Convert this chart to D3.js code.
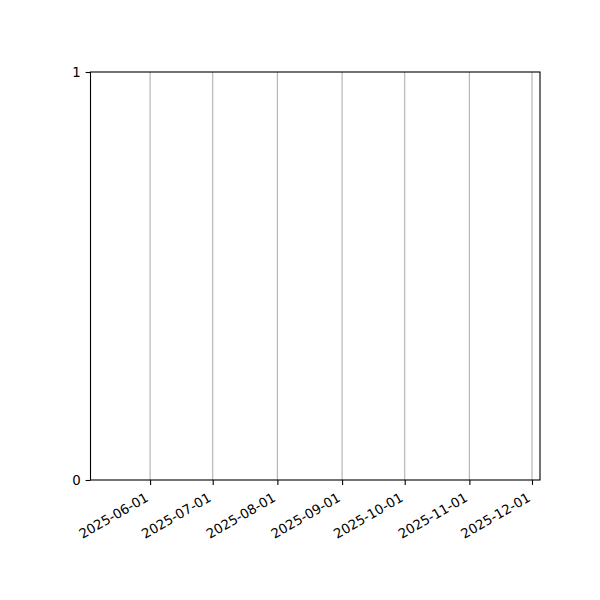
<!DOCTYPE html>
<html>
<head>
<meta charset="utf-8">
<script src="https://cdn.jsdelivr.net/npm/d3@7/dist/d3.min.js"></script>
<style>
  html, body { margin: 0; padding: 0; background: #fff; }
  svg { display: block; }
  text { font-family: "DejaVu Sans", sans-serif; fill: #000; }
</style>
</head>
<body>
<svg id="chart" width="600" height="600"></svg>
<script>
// Data (the chart is empty: no series values)
const seriesDates = [];
const seriesValues = [];
const xDomain = ["2025-05-03T10:48:00", "2025-12-04T20:00:00"];
const xTickLabels = ["2025-06-01", "2025-07-01", "2025-08-01", "2025-09-01", "2025-10-01", "2025-11-01", "2025-12-01"];
const yTicks = [0, 1];

const W = 600, H = 600;
const margin = { left: 90.5, right: 60, top: 72, bottom: 120 };
const iw = W - margin.left - margin.right;
const ih = H - margin.top - margin.bottom;

const parse = d3.timeParse("%Y-%m-%dT%H:%M:%S");
const parseDay = d3.timeParse("%Y-%m-%d");

const svg = d3.select("#chart");
const g = svg.append("g").attr("transform", `translate(${margin.left},${margin.top})`);

const x = d3.scaleTime().domain(xDomain.map(parse)).range([0, iw]);
const y = d3.scaleLinear().domain([0, 1]).range([ih, 0]);

const tickDates = xTickLabels.map(parseDay);

// vertical grid
g.append("g").selectAll("line").data(tickDates).join("line")
  .attr("x1", d => x(d)).attr("x2", d => x(d))
  .attr("y1", 0).attr("y2", ih)
  .attr("stroke", "#b0b0b0").attr("stroke-width", 1.1);

// series (none)
g.append("path").datum(seriesDates.map((d, i) => [parseDay(d), seriesValues[i]]))
  .attr("fill", "none").attr("stroke", "#1f77b4")
  .attr("d", d3.line().x(d => x(d[0])).y(d => y(d[1])));

// x axis
const xAxis = d3.axisBottom(x).tickValues(tickDates).tickFormat(d3.timeFormat("%Y-%m-%d"))
  .tickSize(4.9).tickPadding(0);
const xg = g.append("g").attr("transform", `translate(0,${ih})`).call(xAxis);
xg.select(".domain").remove();
xg.selectAll(".tick line").attr("stroke", "#000").attr("stroke-width", 1.1);
xg.selectAll(".tick text")
  .attr("font-size", 13.3).attr("font-family", "DejaVu Sans")
  .attr("fill", "#000")
  .attr("text-anchor", "end")
  .attr("x", 0).attr("y", 0).attr("dy", null)
  .attr("transform", "translate(-6,12) rotate(-30)")
  .attr("dominant-baseline", "hanging");

// y axis
const yAxis = d3.axisLeft(y).tickValues(yTicks).tickFormat(d3.format("d"))
  .tickSize(4.9).tickPadding(4.9);
const yg = g.append("g").call(yAxis);
yg.select(".domain").remove();
yg.selectAll(".tick line").attr("stroke", "#000").attr("stroke-width", 1.1);
yg.selectAll(".tick text").attr("font-size", 13.3).attr("font-family", "DejaVu Sans").attr("fill", "#000");

// frame
g.append("rect").attr("x", 0).attr("y", 0).attr("width", iw).attr("height", ih)
  .attr("fill", "none").attr("stroke", "#000").attr("stroke-width", 1.1);
</script>
</body>
</html>
